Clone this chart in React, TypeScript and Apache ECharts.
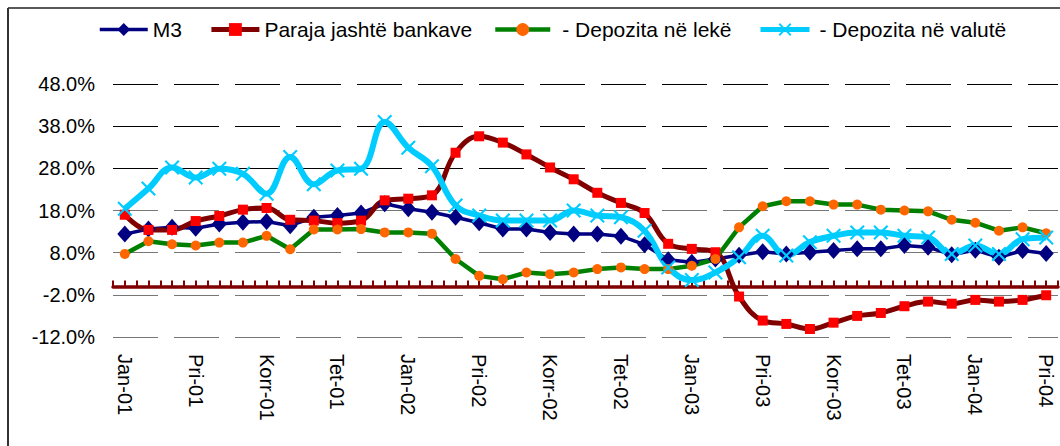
import React, { useEffect, useRef } from "react";
import * as echarts from "echarts";

const categories = [
  "Jan-01","Shk-01","Mar-01","Pri-01","Maj-01","Qer-01","Korr-01","Gus-01","Sht-01","Tet-01","Nën-01","Dhj-01",
  "Jan-02","Shk-02","Mar-02","Pri-02","Maj-02","Qer-02","Korr-02","Gus-02","Sht-02","Tet-02","Nën-02","Dhj-02",
  "Jan-03","Shk-03","Mar-03","Pri-03","Maj-03","Qer-03","Korr-03","Gus-03","Sht-03","Tet-03","Nën-03","Dhj-03",
  "Jan-04","Shk-04","Mar-04","Pri-04",
];

const m3 = [
  12.4, 13.6, 14.0, 13.8, 14.8, 15.2, 15.4, 14.4, 16.4, 16.8, 17.4, 19.6,
  18.4, 17.6, 16.4, 15.1, 13.6, 13.6, 12.8, 12.4, 12.4, 11.9, 9.9, 6.3,
  5.7, 6.5, 7.4, 8.2, 7.7, 8.1, 8.5, 8.9, 8.9, 9.7, 9.3, 7.5,
  8.6, 6.9, 8.5, 7.8,
];

const paraja = [
  17.0, 13.4, 13.4, 15.5, 16.7, 18.2, 18.6, 15.8, 15.6, 15.0, 15.6, 20.4,
  20.8, 21.6, 31.7, 35.6, 34.1, 31.3, 28.2, 25.4, 22.2, 19.8, 17.4, 10.1,
  8.9, 8.1, -2.4, -8.1, -8.9, -10.1, -8.6, -7.0, -6.3, -4.7, -3.6, -4.1,
  -3.2, -3.6, -3.2, -2.1,
];

const depLeke = [
  7.7, 10.7, 10.0, 9.7, 10.4, 10.4, 12.0, 8.8, 13.5, 13.5, 13.6, 12.8,
  12.8, 12.5, 6.5, 2.5, 1.7, 3.3, 2.9, 3.3, 4.1, 4.5, 4.1, 4.1,
  4.9, 6.5, 14.0, 19.0, 20.2, 20.2, 19.4, 19.4, 18.2, 18.0, 17.8, 15.8,
  15.1, 13.2, 14.0, 12.6,
];

const depValute = [
  18.4, 23.2, 28.2, 25.8, 27.9, 26.7, 22.0, 30.7, 24.2, 27.5, 27.9, 39.0,
  32.9, 28.5, 19.2, 16.8, 15.6, 15.6, 15.6, 18.0, 16.8, 16.4, 13.2, 4.5,
  1.5, 3.3, 6.9, 12.0, 7.3, 10.5, 12.0, 12.8, 12.8, 12.0, 11.6, 7.7,
  9.7, 7.7, 11.2, 11.6,
];

const seriesNames = ["M3", "Paraja jashtë bankave", "- Depozita në lekë", "- Depozita në valutë"];

const FONT = "'Liberation Sans', Arial, sans-serif";
const X_SYMBOL = "path://M0,1L1,0L5,4L9,0L10,1L6,5L10,9L9,10L5,6L1,10L0,9L4,5Z";

const legendBase = {
  top: 19,
  padding: 0,
  itemHeight: 16,
  itemGap: 27,
};

export default function App() {
  const ref = useRef<HTMLDivElement>(null);

  useEffect(() => {
    if (!ref.current) return;
    const chart = echarts.init(ref.current, null, { renderer: "svg" });
    chart.setOption({
      animation: false,
      backgroundColor: "#ffffff",
      textStyle: { fontFamily: FONT },
      graphic: [
        { type: "line", shape: { x1: 8, y1: 8, x2: 1060, y2: 8 }, style: { stroke: "#222", lineWidth: 1.5 } },
        { type: "line", shape: { x1: 8, y1: 8, x2: 8, y2: 446 }, style: { stroke: "#333", lineWidth: 2 } },
      ],
      legend: [
        {
          ...legendBase,
          data: [
            { name: seriesNames[0], lineStyle: { width: 3.5 } },
            { name: seriesNames[1], lineStyle: { width: 5 } },
          ],
          left: 98,
          itemWidth: 48,
          textStyle: { fontSize: 21, color: "#000", fontFamily: FONT },
        },
        {
          ...legendBase,
          data: [{ name: seriesNames[2], lineStyle: { width: 4.5 } }],
          left: 493,
          itemWidth: 55,
          textStyle: { fontSize: 21, color: "#000", fontFamily: FONT, padding: [0, 0, 0, 7] },
        },
        {
          ...legendBase,
          data: [{ name: seriesNames[3], lineStyle: { width: 5 } }],
          left: 758,
          itemWidth: 49,
          textStyle: { fontSize: 21, color: "#000", fontFamily: FONT, padding: [0, 0, 0, 5] },
        },
      ],
      grid: { left: 113, right: 2, top: 84, bottom: 109, containLabel: false },
      xAxis: [
        {
          type: "category",
          data: categories,
          boundaryGap: true,
          position: "bottom",
          axisLine: { show: false, onZero: false },
          axisTick: { show: false },
          splitLine: { show: false },
          axisLabel: {
            interval: 2,
            rotate: -90,
            margin: 17,
            fontSize: 20,
            color: "#000",
            fontFamily: FONT,
          },
        },
        {
          type: "value",
          min: 0,
          max: categories.length,
          interval: 0.5,
          position: "bottom",
          axisLine: { show: true, onZero: true, lineStyle: { color: "#800000", width: 3.5 } },
          axisTick: { show: true, inside: true, length: 6, lineStyle: { color: "#800000", width: 2 } },
          axisLabel: { show: false },
          splitLine: { show: false },
        },
      ],
      yAxis: {
        type: "value",
        min: -12,
        max: 48,
        interval: 10,
        axisLine: { show: false },
        axisTick: { show: false },
        axisLabel: {
          formatter: (v: number) => v.toFixed(1) + "%",
          fontSize: 20,
          color: "#000",
          margin: 18,
          fontFamily: FONT,
        },
        splitLine: {
          show: true,
          lineStyle: {
            color: ["#777", "#777", "#777", "#777", "#000", "#000", "#000"],
            width: 1,
            type: [45, 16],
          },
        },
      },
      series: [
        {
          name: seriesNames[0],
          type: "line",
          data: m3,
          showAllSymbol: true,
          symbol: "diamond",
          symbolSize: [15, 17],
          lineStyle: { color: "#000080", width: 3.5 },
          itemStyle: { color: "#000080" },
        },
        {
          name: seriesNames[1],
          type: "line",
          data: paraja,
          showAllSymbol: true,
          smooth: 0.4,
          symbol: "rect",
          symbolSize: 10,
          lineStyle: { color: "#800000", width: 5 },
          itemStyle: { color: "#FF0000" },
        },
        {
          name: seriesNames[2],
          type: "line",
          data: depLeke,
          showAllSymbol: true,
          symbol: "circle",
          symbolSize: 10,
          lineStyle: { color: "#008000", width: 4.5 },
          itemStyle: { color: "#FF6600" },
        },
        {
          name: seriesNames[3],
          type: "line",
          data: depValute,
          showAllSymbol: true,
          smooth: 0.4,
          symbol: X_SYMBOL,
          symbolSize: 15,
          lineStyle: { color: "#00CCFF", width: 6 },
          itemStyle: { color: "#00CCFF" },
        },
      ],
    });
    return () => chart.dispose();
  }, []);

  return (
    <div
      ref={ref}
      style={{ position: "fixed", left: 0, top: 0, width: 1060, height: 446 }}
    />
  );
}
